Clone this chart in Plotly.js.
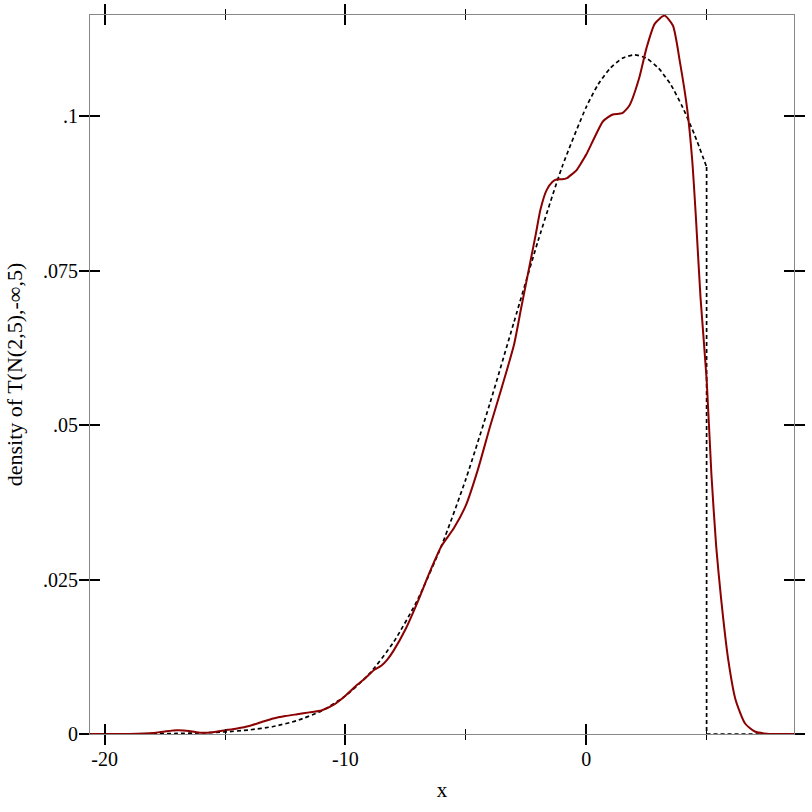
<!DOCTYPE html>
<html>
<head>
<meta charset="utf-8">
<script src="https://cdn.plot.ly/plotly-3.0.1.min.js"></script>
<style>html,body{margin:0;padding:0;background:#fff;}#chart{width:812px;height:812px;}</style>
</head>
<body>
<div id="chart"></div>
<script>
// Theoretical density (dashed)
var dashX = [-20.61,-20,-19,-18,-17,-16,-15,-14,-13,-12,-11,-10,-9,-8,-7,-6,-5,-4,-3,-2,-1,0,0.5,1,1.5,2,2.5,3,3.5,4,4.5,5];
var dashY = [0.000003,0.000007,0.00002,0.00004,0.00009,0.00017,0.00034,0.00066,0.00122,0.00218,0.00374,0.00617,0.00977,0.01488,0.02176,0.03057,0.04126,0.05352,0.06669,0.07984,0.09184,0.1015,0.1052,0.1078,0.1094,0.10995,0.1094,0.1078,0.1052,0.1015,0.0970,0.0918];
var dropX = [5, 5, 8.63];
var dropY = [0.0918, 0, 0];

// Kernel density estimate (dark red)
var kdeX = [-20.61,-19,-18,-17.5,-17,-16.5,-16,-15.5,-15,-14.5,-14,-13.5,-13,-12.5,-12,-11.5,-11,-10.5,-10,-9.5,-9.25,-9,-8.8,-8.5,-8.27,-8,-7.5,-7,-6.5,-6,-5.5,-5,-4.5,-4,-3.5,-3,-2.7,-2.4,-2.1,-1.9,-1.65,-1.4,-1.2,-1.0,-0.8,-0.6,-0.4,-0.2,0,0.3,0.7,1.1,1.5,1.8,2.2,2.5,2.85,3.25,3.6,3.9,4.2,4.4,4.55,4.75,5.0,5.2,5.4,5.6,5.9,6.2,6.6,7.0,7.5,8.63];
var kdeY = [0,0.00002,0.00015,0.0004,0.0006,0.0005,0.0002,0.0003,0.0006,0.0009,0.0013,0.0019,0.0025,0.0029,0.0032,0.0035,0.0038,0.0047,0.0062,0.0080,0.0088,0.0097,0.0104,0.0111,0.0120,0.0135,0.0170,0.0214,0.0262,0.0305,0.0333,0.0370,0.0428,0.0497,0.0562,0.0630,0.0690,0.0749,0.0808,0.0849,0.0880,0.0894,0.0898,0.0898,0.0900,0.0906,0.0913,0.0925,0.0938,0.0962,0.0992,0.1003,0.1005,0.1018,0.1062,0.1110,0.1150,0.1163,0.1147,0.1086,0.1010,0.0930,0.0840,0.0705,0.0575,0.0420,0.0303,0.0220,0.0120,0.0056,0.0017,0.0004,0.00005,0];

var xTickVals = [-20, -10, 0];
var xTickText = ['-20', '-10', '0'];
var xMinorVals = [-15, -5, 5];
var yTickVals = [0, 0.025, 0.05, 0.075, 0.1];
var yTickText = ['0', '.025', '.05', '.075', '.1'];

var xRange = [-20.61, 8.63];
var yRange = [0, 0.1164];

var fontFam = '"Liberation Serif", "DejaVu Serif", serif';

var traces = [
  {x: dashX, y: dashY, type: 'scatter', mode: 'lines', line: {color: '#000', width: 1.7, dash: '4px,3px', shape: 'spline', smoothing: 0.6}, hoverinfo: 'skip'},
  {x: dropX, y: dropY, type: 'scatter', mode: 'lines', line: {color: '#000', width: 1.7, dash: '4px,3px'}, hoverinfo: 'skip'},
  {x: kdeX, y: kdeY, type: 'scatter', mode: 'lines', line: {color: '#8b0000', width: 2, shape: 'spline', smoothing: 0.6}, hoverinfo: 'skip'},
  {x: [xRange[0]], y: [yRange[0]], xaxis: 'x2', yaxis: 'y2', type: 'scatter', mode: 'markers', marker: {opacity: 0}, hoverinfo: 'skip'}
];

var axisCommon = {showgrid: false, zeroline: false, tickcolor: '#000', tickfont: {family: fontFam, size: 20, color: '#000'}};

var layout = {
  width: 812, height: 812,
  margin: {l: 90, r: 18, t: 15, b: 78, pad: 0},
  paper_bgcolor: '#fff', plot_bgcolor: '#fff',
  showlegend: false,
  font: {family: fontFam, size: 20, color: '#000'},
  xaxis: Object.assign({}, axisCommon, {
    range: xRange, tickmode: 'array', tickvals: xTickVals, ticktext: xTickText,
    ticks: 'outside', ticklen: 10, tickwidth: 2,
    showline: true, linecolor: '#888', linewidth: 1, mirror: 'allticks',
    minor: {tickmode: 'array', tickvals: xMinorVals, ticks: 'outside', ticklen: 5, tickwidth: 1, tickcolor: '#000', showgrid: false},
    ticklabelstandoff: -3,
    title: {text: 'x', font: {family: fontFam, size: 21}, standoff: 13},
    automargin: false
  }),
  yaxis: Object.assign({}, axisCommon, {
    range: yRange, tickmode: 'array', tickvals: yTickVals, ticktext: yTickText,
    ticks: 'outside', ticklen: 10, tickwidth: 2,
    showline: true, linecolor: '#888', linewidth: 1, mirror: 'allticks',
    ticklabelstandoff: -3,
    title: {text: 'density of T(N(2,5),-∞,5)', font: {family: fontFam, size: 22}, standoff: 14},
    automargin: false
  }),
  xaxis2: Object.assign({}, axisCommon, {
    overlaying: 'x', anchor: 'y2', range: xRange, tickmode: 'array', tickvals: xTickVals,
    ticks: 'inside', ticklen: 10, tickwidth: 2, showticklabels: false,
    showline: false, mirror: 'allticks',
    minor: {tickmode: 'array', tickvals: xMinorVals, ticks: 'inside', ticklen: 5, tickwidth: 1, tickcolor: '#000', showgrid: false}
  }),
  yaxis2: Object.assign({}, axisCommon, {
    overlaying: 'y', anchor: 'x2', range: yRange, tickmode: 'array', tickvals: yTickVals,
    ticks: 'inside', ticklen: 10, tickwidth: 2, showticklabels: false,
    showline: false, mirror: 'allticks'
  })
};

Plotly.newPlot('chart', traces, layout, {displayModeBar: false, staticPlot: true});
</script>
</body>
</html>
